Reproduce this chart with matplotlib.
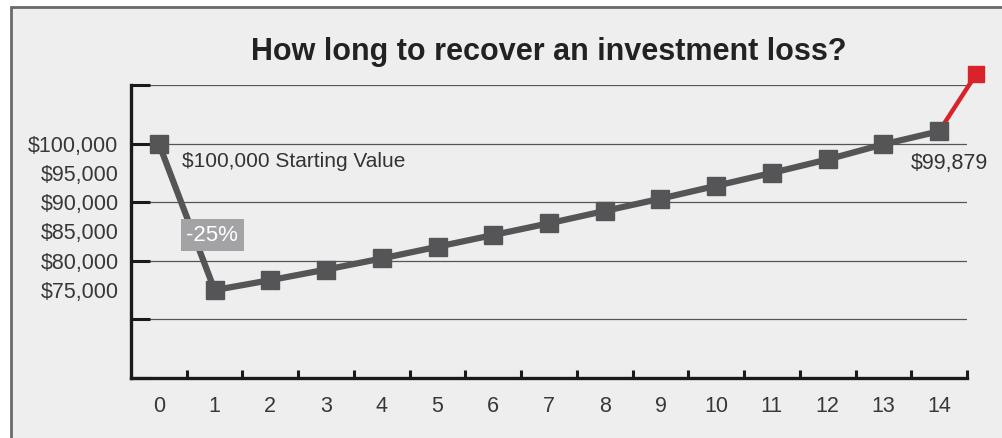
import matplotlib
matplotlib.use("Agg")
import matplotlib.pyplot as plt
from matplotlib.patches import Rectangle
from matplotlib.ticker import FuncFormatter
import numpy as np

plt.rcParams['font.family'] = ['Liberation Sans', 'DejaVu Sans']

years = list(range(15))
values = [100000, 75000, 76700, 78500, 80400, 82400, 84400, 86400,
          88500, 90600, 92800, 95000, 97300, 99879, 102100]
red_x = [14, 14.66]
red_y = [102100, 111800]
ytick_labels_at = [75000, 80000, 85000, 90000, 95000, 100000]
grid_at = [60000, 70000, 80000, 90000, 100000, 110000]
title = "How long to recover an investment loss?"
start_label = "$100,000 Starting Value"
end_label = "$99,879"
drop_label = "-25%"

W, H = 1003, 438
fig = plt.figure(figsize=(W / 100, H / 100), dpi=100)
fig.patch.set_facecolor('white')
# background panel with frame (extends beyond right/bottom edges)
fig.patches.append(Rectangle((11 / W, -0.1), 1.2, (H - 7) / H + 0.1,
                             transform=fig.transFigure, facecolor='#eeeeee',
                             edgecolor='#6a6a6a', linewidth=2, zorder=-5))

ax = fig.add_axes([131 / W, (H - 378) / H, (967 - 131) / W, (378 - 85) / H])
ax.set_zorder(2)
ax.set_facecolor('none')
ax.set_xlim(-0.5, 14.5)
ax.set_ylim(60000, 110000)

for s in ['top', 'right']:
    ax.spines[s].set_visible(False)
for s in ['left', 'bottom']:
    ax.spines[s].set_linewidth(2.4)
    ax.spines[s].set_color('#1a1a1a')

# y axis: labels every 5k, ticks/grid every 10k
ax.yaxis.remove_overlapping_locs = False
ax.set_yticks(ytick_labels_at)
ax.set_yticks(grid_at, minor=True)
ax.yaxis.set_major_formatter(FuncFormatter(lambda v, p: f"${v:,.0f}"))
ax.tick_params(axis='y', which='major', length=0, pad=9, labelsize=15.5, labelcolor='#383838')
ax.tick_params(axis='y', which='minor', direction='in', length=14, width=2.2, color='#1a1a1a')
ax.grid(axis='y', which='minor', color='#555555', linewidth=0.9, zorder=1)

# x axis: labels at integers, ticks between categories
ax.set_xticks(years)
ax.set_xticks(np.arange(0.5, 15, 1.0), minor=True)
ax.tick_params(axis='x', which='major', length=0, pad=13, labelsize=15.5, labelcolor='#383838')
ax.tick_params(axis='x', which='minor', direction='in', length=6, width=2.2, color='#1a1a1a')

ax.plot(red_x, red_y, color='#d9232b', linewidth=3.2, zorder=3, clip_on=False)
ax.plot(red_x[-1:], red_y[-1:], marker='s', markersize=12, color='#d9232b',
        linestyle='none', zorder=4, clip_on=False)
ax.plot(years, values, color='#555557', linewidth=4.5, marker='s', markersize=13.5,
        zorder=5, clip_on=False)

ax.text(0.42, 96900, start_label, fontsize=15, color='#333333', va='center', ha='left')
ax.text(14.88, 96650, end_label, fontsize=15.5, color='#333333', va='center', ha='right',
        clip_on=False)
ax.text(0.96, 84400, drop_label, fontsize=16, color='white', va='center', ha='center',
        zorder=6, bbox=dict(boxstyle='square,pad=0.25', facecolor='#a3a3a5', edgecolor='none'))

fig.text((131 + 967) / 2 / W, 1 - 52 / H, title, fontsize=22, fontweight='bold',
         color='#222222', ha='center', va='center')

fig.savefig('out.png', dpi=100, facecolor=fig.get_facecolor())
